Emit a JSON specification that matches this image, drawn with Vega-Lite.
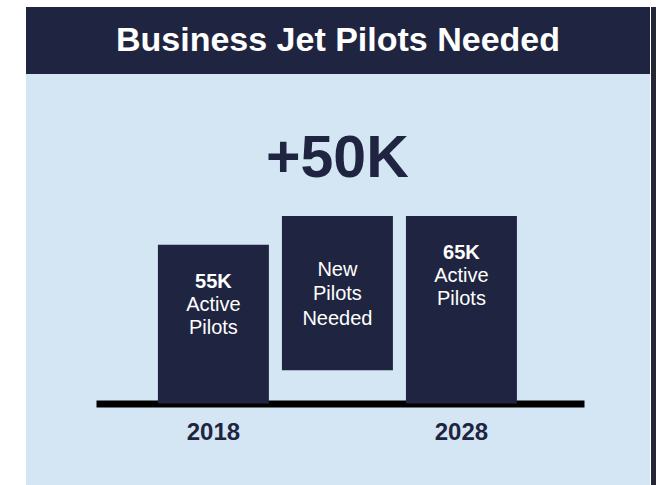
{
  "$schema": "https://vega.github.io/schema/vega-lite/v6.json",
  "background": "white",
  "padding": {"left": 26, "top": 7, "right": 0, "bottom": 0},
  "config": {"view": {"stroke": null}, "font": "Liberation Sans", "text": {"font": "Liberation Sans"}},
  "datasets": {
    "bars": [
      {"cat": "2018", "start": 0, "end": 55, "num": "55K", "desc": ["Active", "Pilots"], "kind": "active"},
      {"cat": "New", "start": 11.5, "end": 65, "desc": ["New", "Pilots", "Needed"], "kind": "new", "change": "+50K"},
      {"cat": "2028", "start": 0, "end": 65, "num": "65K", "desc": ["Active", "Pilots"], "kind": "active"}
    ]
  },
  "hconcat": [
    {
      "spacing": 0,
      "vconcat": [
        {
          "width": 624,
          "height": 67,
          "view": {"fill": "#1f2540", "stroke": null},
          "data": {"values": [{"title": "Business Jet Pilots Needed"}]},
          "mark": {"type": "text", "font": "Liberation Sans", "fontWeight": "bold", "fontSize": 34, "color": "white", "baseline": "middle", "align": "center"},
          "encoding": {"text": {"field": "title", "type": "nominal"}}
        },
        {
          "width": 624,
          "height": 411,
          "view": {"fill": "#d4e6f4", "stroke": null},
          "data": {"name": "bars"},
          "encoding": {
            "x": {
              "field": "cat",
              "type": "nominal",
              "sort": null,
              "scale": {"domain": ["2018", "New", "2028"], "range": [70, 558], "paddingInner": 0.105, "paddingOuter": 0.52, "align": 0.48},
              "axis": {
                "orient": "bottom",
                "offset": -81.5,
                "title": null,
                "domainColor": "black",
                "domainWidth": 7,
                "ticks": false,
                "grid": false,
                "labelAngle": 0,
                "labelExpr": "datum.value == 'New' ? '' : datum.value",
                "labelFont": "Liberation Sans",
                "labelFontWeight": "bold",
                "labelFontSize": 24,
                "labelColor": "#1f2540",
                "labelBaseline": "alphabetic",
                "labelPadding": 36
              }
            }
          },
          "layer": [
            {
              "mark": {"type": "bar", "color": "#1f2540"},
              "encoding": {
                "y": {"field": "start", "type": "quantitative", "scale": {"domain": [-28.25, 114.2], "nice": false, "zero": false}, "axis": null},
                "y2": {"field": "end"}
              }
            },
            {
              "transform": [{"filter": "datum.num != null"}],
              "mark": {"type": "text", "fontWeight": "bold", "fontSize": 20, "color": "white", "baseline": "alphabetic", "align": "center", "dy": 43},
              "encoding": {
                "y": {"field": "end", "type": "quantitative"},
                "text": {"field": "num", "type": "nominal"}
              }
            },
            {
              "transform": [{"filter": "datum.kind == 'active'"}],
              "mark": {"type": "text", "fontSize": 20, "color": "white", "baseline": "alphabetic", "align": "center", "dy": 66, "lineHeight": 23},
              "encoding": {
                "y": {"field": "end", "type": "quantitative"},
                "text": {"field": "desc"}
              }
            },
            {
              "transform": [{"filter": "datum.kind == 'new'"}],
              "mark": {"type": "text", "fontSize": 20, "color": "white", "baseline": "alphabetic", "align": "center", "dy": 60, "lineHeight": 24.5},
              "encoding": {
                "y": {"field": "end", "type": "quantitative"},
                "text": {"field": "desc"}
              }
            },
            {
              "transform": [{"filter": "datum.change != null"}],
              "mark": {"type": "text", "fontSize": 59, "fontWeight": "bold", "color": "#1f2540", "baseline": "alphabetic", "align": "center", "dy": -39},
              "encoding": {
                "y": {"field": "end", "type": "quantitative"},
                "text": {"field": "change", "type": "nominal"}
              }
            }
          ]
        }
      ]
    },
    {
      "width": 5,
      "height": 478,
      "view": {"fill": "#232834", "stroke": null},
      "data": {"values": [{}]},
      "mark": {"type": "text", "text": ""},
      "encoding": {}
    }
  ],
  "spacing": 1
}
